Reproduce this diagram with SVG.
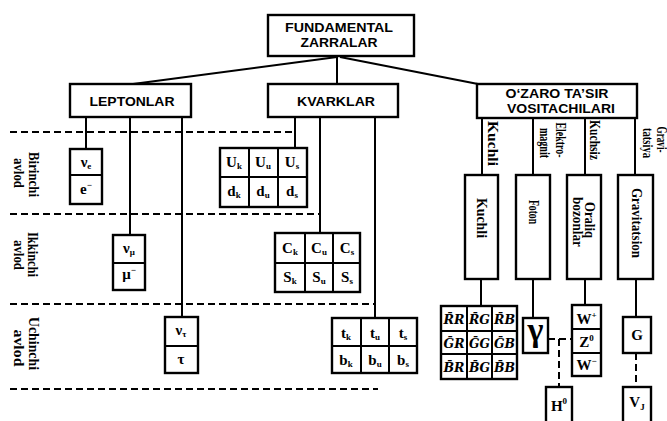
<svg xmlns="http://www.w3.org/2000/svg" width="667" height="421" viewBox="0 0 667 421">
<style>
.bx{fill:#fff;stroke:#000;stroke-width:2.4}
.ln{stroke:#000;stroke-width:2;fill:none}
.ds{stroke:#000;stroke-width:2;fill:none;stroke-dasharray:7 4}
.hd{font-family:"Liberation Sans",Arial,sans-serif;font-weight:bold;font-size:13px;text-anchor:middle;fill:#000}
.rl{font-family:"Liberation Serif","Times New Roman",serif;font-weight:bold;font-size:14px;text-anchor:middle;dominant-baseline:central;fill:#000}
.p{font-family:"Liberation Serif","Times New Roman",serif;font-weight:bold;font-size:15px;text-anchor:middle;fill:#000}
.s{font-size:9px}
.g{font-family:"DejaVu Serif",serif;font-weight:bold;font-style:italic;font-size:12px;text-anchor:middle;fill:#000}
</style>
<rect width="667" height="421" fill="#fff"/>
<g id="connectors">
<line class="ln" x1="337" y1="57" x2="133" y2="84"/>
<line class="ln" x1="340" y1="57" x2="478" y2="84"/>
<line class="ln" x1="337" y1="57" x2="337" y2="84"/>
<line class="ln" x1="86" y1="117" x2="86" y2="149"/>
<line class="ln" x1="130" y1="117" x2="130" y2="235"/>
<line class="ln" x1="182" y1="117" x2="182" y2="317"/>
<line class="ln" x1="295" y1="117" x2="295" y2="148"/>
<line class="ln" x1="320" y1="117" x2="320" y2="233"/>
<line class="ln" x1="375" y1="117" x2="375" y2="318"/>
<line class="ln" x1="482" y1="118" x2="482" y2="175"/>
<line class="ln" x1="533" y1="118" x2="533" y2="175"/>
<line class="ln" x1="585" y1="118" x2="585" y2="175"/>
<line class="ln" x1="635" y1="118" x2="635" y2="175"/>
<line class="ln" x1="481" y1="279" x2="481" y2="306"/>
<line class="ln" x1="533" y1="279" x2="533" y2="318"/>
<line class="ln" x1="585" y1="279" x2="585" y2="305"/>
<line class="ln" x1="636" y1="279" x2="636" y2="317"/>
<line class="ds" x1="10" y1="132" x2="295" y2="132"/>
<line class="ds" x1="10" y1="214" x2="320" y2="214"/>
<line class="ds" x1="10" y1="304" x2="375" y2="304"/>
<line class="ds" x1="10" y1="389" x2="378" y2="389"/>
<line class="ds" x1="548" y1="339" x2="572" y2="339"/>
<line class="ds" x1="559" y1="339" x2="559" y2="387"/>
<line class="ds" x1="636" y1="353" x2="636" y2="387"/>
</g>
<g id="labels">
<text class="rl" transform="translate(33,174.5) rotate(90)" textLength="45" lengthAdjust="spacingAndGlyphs">Birinchi</text>
<text class="rl" transform="translate(18,173) rotate(90)" textLength="30" lengthAdjust="spacingAndGlyphs">avlod</text>
<text class="rl" transform="translate(32,254.5) rotate(90)" textLength="45" lengthAdjust="spacingAndGlyphs">Ikkinchi</text>
<text class="rl" transform="translate(18,255) rotate(90)" textLength="30" lengthAdjust="spacingAndGlyphs">avlod</text>
<text class="rl" transform="translate(33,343.5) rotate(90)" textLength="53" lengthAdjust="spacingAndGlyphs">Uchinchi</text>
<text class="rl" transform="translate(18,348) rotate(90)" textLength="37" lengthAdjust="spacingAndGlyphs">avlod</text>
<text class="rl" transform="translate(492,143.5) rotate(90)" textLength="45" lengthAdjust="spacingAndGlyphs">Kuchli</text>
<text class="rl" transform="translate(560,140) rotate(90)" textLength="35" lengthAdjust="spacingAndGlyphs">Elektro-</text>
<text class="rl" transform="translate(544,143) rotate(90)" textLength="30" lengthAdjust="spacingAndGlyphs">magnit</text>
<text class="rl" transform="translate(594,140) rotate(90)" textLength="40" lengthAdjust="spacingAndGlyphs">Kuchsiz</text>
<text class="rl" transform="translate(661,139.5) rotate(90)" textLength="26" lengthAdjust="spacingAndGlyphs">Gravi-</text>
<text class="rl" transform="translate(647,143) rotate(90)" textLength="30" lengthAdjust="spacingAndGlyphs">tatsiya</text>
</g>
<g id="fundamental">
<rect class="bx" x="268" y="15" width="146" height="41"/>
<text class="hd" x="339" y="32" textLength="108" lengthAdjust="spacingAndGlyphs">FUNDAMENTAL</text>
<text class="hd" x="339" y="47" textLength="77" lengthAdjust="spacingAndGlyphs">ZARRALAR</text>
</g>
<g id="leptonlar">
<rect class="bx" x="70" y="84" width="121" height="33"/>
<text class="hd" x="132" y="106" textLength="85" lengthAdjust="spacingAndGlyphs">LEPTONLAR</text>
</g>
<g id="kvarklar">
<rect class="bx" x="268" y="84" width="130" height="33"/>
<text class="hd" x="336" y="106" textLength="78" lengthAdjust="spacingAndGlyphs">KVARKLAR</text>
</g>
<g id="vositachilar">
<rect class="bx" x="477" y="84" width="160" height="34"/>
<text class="hd" x="557" y="98" textLength="103" lengthAdjust="spacingAndGlyphs">O‘ZARO TA’SIR</text>
<text class="hd" x="561" y="113" textLength="108" lengthAdjust="spacingAndGlyphs">VOSITACHILARI</text>
</g>
<g id="lepton1">
<rect class="bx" x="70" y="149" width="32" height="55"/>
<line class="ln" x1="70" y1="175" x2="102" y2="175"/>
<text class="p" x="86" y="167">ν<tspan class="s" dy="2">e</tspan></text>
<text class="p" x="86" y="194">e<tspan class="s" dy="-6">−</tspan></text>
</g>
<g id="lepton2">
<rect class="bx" x="113" y="235" width="32" height="55"/>
<line class="ln" x1="113" y1="263" x2="145" y2="263"/>
<text class="p" x="129" y="253">ν<tspan class="s" dy="2">μ</tspan></text>
<text class="p" x="129" y="279">μ<tspan class="s" dy="-6">−</tspan></text>
</g>
<g id="lepton3">
<rect class="bx" x="165" y="317" width="33" height="56"/>
<line class="ln" x1="165" y1="346" x2="198" y2="346"/>
<text class="p" x="181" y="335">ν<tspan class="s" dy="2">τ</tspan></text>
<text class="p" x="181" y="364">τ</text>
</g>
<g id="quark1">
<rect class="bx" x="220" y="148" width="87" height="59"/>
<line class="ln" x1="220" y1="177" x2="307" y2="177"/>
<line class="ln" x1="249" y1="148" x2="249" y2="207"/>
<line class="ln" x1="278" y1="148" x2="278" y2="207"/>
<text class="p" x="234" y="167">U<tspan class="s" dy="2">k</tspan></text>
<text class="p" x="263" y="167">U<tspan class="s" dy="2">u</tspan></text>
<text class="p" x="292" y="167">U<tspan class="s" dy="2">s</tspan></text>
<text class="p" x="234" y="196">d<tspan class="s" dy="2">k</tspan></text>
<text class="p" x="263" y="196">d<tspan class="s" dy="2">u</tspan></text>
<text class="p" x="292" y="196">d<tspan class="s" dy="2">s</tspan></text>
</g>
<g id="quark2">
<rect class="bx" x="275" y="233" width="85" height="59"/>
<line class="ln" x1="275" y1="263" x2="360" y2="263"/>
<line class="ln" x1="305" y1="233" x2="305" y2="292"/>
<line class="ln" x1="333" y1="233" x2="333" y2="292"/>
<text class="p" x="290" y="253">C<tspan class="s" dy="2">k</tspan></text>
<text class="p" x="319" y="253">C<tspan class="s" dy="2">u</tspan></text>
<text class="p" x="347" y="253">C<tspan class="s" dy="2">s</tspan></text>
<text class="p" x="290" y="282">S<tspan class="s" dy="2">k</tspan></text>
<text class="p" x="319" y="282">S<tspan class="s" dy="2">u</tspan></text>
<text class="p" x="347" y="282">S<tspan class="s" dy="2">s</tspan></text>
</g>
<g id="quark3">
<rect class="bx" x="332" y="318" width="85" height="55"/>
<line class="ln" x1="332" y1="346" x2="417" y2="346"/>
<line class="ln" x1="361" y1="318" x2="361" y2="373"/>
<line class="ln" x1="389" y1="318" x2="389" y2="373"/>
<text class="p" x="346" y="338">t<tspan class="s" dy="2">k</tspan></text>
<text class="p" x="375" y="338">t<tspan class="s" dy="2">u</tspan></text>
<text class="p" x="403" y="338">t<tspan class="s" dy="2">s</tspan></text>
<text class="p" x="346" y="365">b<tspan class="s" dy="2">k</tspan></text>
<text class="p" x="375" y="365">b<tspan class="s" dy="2">u</tspan></text>
<text class="p" x="403" y="365">b<tspan class="s" dy="2">s</tspan></text>
</g>
<g id="kuchli">
<rect class="bx" x="465" y="175" width="33" height="104"/>
<text class="rl" transform="translate(481,218) rotate(90)" textLength="40" lengthAdjust="spacingAndGlyphs">Kuchli</text>
</g>
<g id="foton">
<rect class="bx" x="516" y="175" width="34" height="104"/>
<text class="rl" transform="translate(533,212) rotate(90)" textLength="24" lengthAdjust="spacingAndGlyphs">Foton</text>
</g>
<g id="oraliq">
<rect class="bx" x="567" y="175" width="34" height="104"/>
<text class="rl" transform="translate(589,220) rotate(90)" textLength="36" lengthAdjust="spacingAndGlyphs">Oraliq</text>
<text class="rl" transform="translate(577,222) rotate(90)" textLength="50" lengthAdjust="spacingAndGlyphs">bozonlar</text>
</g>
<g id="gravitatsion">
<rect class="bx" x="618" y="175" width="35" height="104"/>
<text class="rl" transform="translate(636,223) rotate(90)" textLength="70" lengthAdjust="spacingAndGlyphs">Gravitatsion</text>
</g>
<g id="gluonlar">
<rect class="bx" x="441" y="306" width="76" height="73"/>
<line class="ln" x1="441" y1="331" x2="517" y2="331"/>
<line class="ln" x1="441" y1="354" x2="517" y2="354"/>
<line class="ln" x1="467" y1="306" x2="467" y2="379"/>
<line class="ln" x1="492" y1="306" x2="492" y2="379"/>
<text class="g" x="454" y="324" textLength="21" lengthAdjust="spacingAndGlyphs">R̄R</text>
<text class="g" x="479.5" y="324" textLength="21" lengthAdjust="spacingAndGlyphs">R̄G</text>
<text class="g" x="504.5" y="324" textLength="21" lengthAdjust="spacingAndGlyphs">R̄B</text>
<text class="g" x="454" y="348" textLength="21" lengthAdjust="spacingAndGlyphs">ḠR</text>
<text class="g" x="479.5" y="348" textLength="21" lengthAdjust="spacingAndGlyphs">ḠG</text>
<text class="g" x="504.5" y="348" textLength="21" lengthAdjust="spacingAndGlyphs">ḠB</text>
<text class="g" x="454" y="372" textLength="21" lengthAdjust="spacingAndGlyphs">B̄R</text>
<text class="g" x="479.5" y="372" textLength="21" lengthAdjust="spacingAndGlyphs">B̄G</text>
<text class="g" x="504.5" y="372" textLength="21" lengthAdjust="spacingAndGlyphs">B̄B</text>
</g>
<g id="gamma">
<rect class="bx" x="523" y="318" width="25" height="35"/>
<text class="p" x="535.5" y="341" style="font-size:34px">γ</text>
</g>
<g id="bozonlar">
<rect class="bx" x="572" y="305" width="29" height="71"/>
<line class="ln" x1="572" y1="329" x2="601" y2="329"/>
<line class="ln" x1="572" y1="353" x2="601" y2="353"/>
<text class="p" x="586.5" y="324">W<tspan class="s" dy="-6">+</tspan></text>
<text class="p" x="586.5" y="347">Z<tspan class="s" dy="-6">0</tspan></text>
<text class="p" x="586.5" y="370">W<tspan class="s" dy="-6">−</tspan></text>
</g>
<g id="graviton">
<rect class="bx" x="623" y="317" width="28" height="36"/>
<text class="p" x="637" y="340">G</text>
</g>
<g id="higgs">
<rect class="bx" x="546" y="387" width="26" height="40"/>
<text class="p" x="559" y="411">H<tspan class="s" dy="-7">0</tspan></text>
</g>
<g id="vj">
<rect class="bx" x="623" y="387" width="28" height="40"/>
<text class="p" x="637" y="407">V<tspan class="s" dy="3">J</tspan></text>
</g>
</svg>
